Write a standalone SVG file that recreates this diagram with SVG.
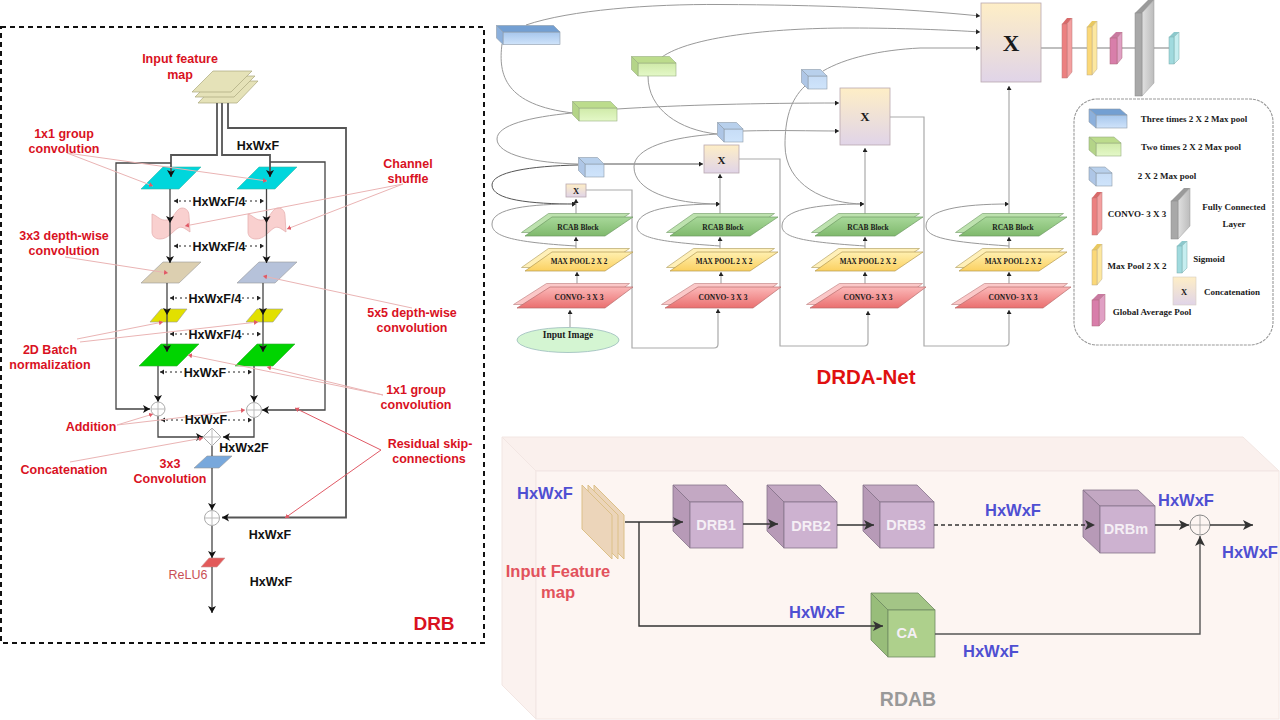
<svg xmlns="http://www.w3.org/2000/svg" xmlns:xlink="http://www.w3.org/1999/xlink" width="1280" height="720" viewBox="0 0 1280 720">
<style>
text{font-family:"Liberation Sans",Arial,sans-serif}
.r{fill:#d9121f;font-weight:700;font-size:12.5px;text-anchor:middle}
.k{fill:#111;font-weight:700;font-size:12.5px;text-anchor:middle}
.b{fill:#4f4fd2;font-weight:700;font-size:16.5px;text-anchor:middle}
.w{fill:#f5eff5;font-weight:700;font-size:14.5px;text-anchor:middle}
.s{font-family:"Liberation Serif","Times New Roman",serif;font-weight:700;fill:#1a1a1a;text-anchor:middle}
.l{font-size:9px}
.ln{fill:none;stroke:#444;stroke-width:1.3}
.ln2{fill:none;stroke:#555;stroke-width:1.8}
.d{fill:none;stroke:#222;stroke-width:1;stroke-dasharray:2 3}
.p{fill:none;stroke:#eab4b4;stroke-width:1}
.p2{fill:none;stroke:#e05a66;stroke-width:1}
.g{fill:none;stroke:#999;stroke-width:1}
.g2{fill:none;stroke:#aaa;stroke-width:1.2}
.g3{fill:none;stroke:#555;stroke-width:1}
.g4{fill:none;stroke:#aaa;stroke-width:1.6}
.o{fill:none;stroke:#333;stroke-width:1.4}
.o2{fill:none;stroke:#555;stroke-width:1.4}
.e{stroke:#8d9aa8;stroke-width:.6}
.c{fill:#fff;stroke:#aaa;stroke-width:1}
.cl{stroke:#bbb;stroke-width:1}
</style>
<defs>
<marker id="a" markerUnits="userSpaceOnUse" markerWidth="9" markerHeight="9" refX="7" refY="4" orient="auto"><path d="M0 0L7 4L0 8L1.8 4Z" fill="#111"/></marker>
<marker id="a2" markerUnits="userSpaceOnUse" markerWidth="6" markerHeight="6" refX="4" refY="2.5" orient="auto"><path d="M0 0L4 2.5L0 5Z" fill="#222"/></marker>
<marker id="a3" markerUnits="userSpaceOnUse" markerWidth="6" markerHeight="6" refX="4" refY="2.5" orient="auto-start-reverse"><path d="M0 0L4 2.5L0 5Z" fill="#222"/></marker>
<marker id="a4" markerUnits="userSpaceOnUse" markerWidth="12" markerHeight="12" refX="10" refY="5" orient="auto"><path d="M0 0L10 5L0 10L2.5 5Z" fill="#333"/></marker>
<marker id="rp" markerUnits="userSpaceOnUse" markerWidth="6" markerHeight="6" refX="4" refY="2.5" orient="auto"><path d="M0 0L4 2.5L0 5Z" fill="#e05a66"/></marker>
<linearGradient id="gBlue" x1="0" y1="0" x2="0" y2="1"><stop offset="0" stop-color="#a6c6ec"/><stop offset="1" stop-color="#cfe3fa"/></linearGradient>
<linearGradient id="gLight" x1="0" y1="0" x2="0" y2="1"><stop offset="0" stop-color="#c6dcf6"/><stop offset="1" stop-color="#cfe4fb"/></linearGradient>
<linearGradient id="gGreen" x1="0" y1="0" x2="0" y2="1"><stop offset="0" stop-color="#cfeaa8"/><stop offset="1" stop-color="#e4f8c8"/></linearGradient>
<linearGradient id="gX" x1="0" y1="0" x2="0" y2="1"><stop offset="0" stop-color="#feeec6"/><stop offset="1" stop-color="#e0d4e8"/></linearGradient>
<linearGradient id="gR" x1="0" y1="0" x2="0" y2="1"><stop offset="0" stop-color="#a8d89a"/><stop offset="1" stop-color="#7fb96c"/></linearGradient>
<linearGradient id="gM" x1="0" y1="0" x2="0" y2="1"><stop offset="0" stop-color="#fff0b0"/><stop offset="1" stop-color="#fbd060"/></linearGradient>
<linearGradient id="gC" x1="0" y1="0" x2="0" y2="1"><stop offset="0" stop-color="#fbb8b8"/><stop offset="1" stop-color="#ea6f6f"/></linearGradient>
<linearGradient id="gGrey" x1="0" y1="0" x2="1" y2="0"><stop offset="0" stop-color="#e0e0e0"/><stop offset="1" stop-color="#bcbcbc"/></linearGradient>
<g id="mp3"><rect width="57" height="12.5" fill="url(#gBlue)" class="e"/><polygon points="0,0 -6.5,-6.5 50.5,-6.5 57,0" fill="#739fd2" class="e"/><polygon points="0,0 -6.5,-6.5 -6.5,6 0,12.5" fill="#8cb0dc" class="e"/></g>
<g id="mp2"><rect width="38" height="13" fill="url(#gGreen)" stroke="#97ad80" stroke-width=".6"/><polygon points="0,0 -6.5,-6.5 31.5,-6.5 38,0" fill="#bcdc8c" stroke="#97ad80" stroke-width=".6"/><polygon points="0,0 -6.5,-6.5 -6.5,6.5 0,13" fill="#b4d488" stroke="#97ad80" stroke-width=".6"/></g>
<g id="mp1"><rect width="19" height="13" fill="url(#gLight)" class="e"/><polygon points="0,0 -6.5,-6.5 12.5,-6.5 19,0" fill="#b8d0ec" class="e"/><polygon points="0,0 -6.5,-6.5 -6.5,6.5 0,13" fill="#aec6e6" class="e"/></g>
<g id="lr"><polygon points="-3.5,-3.5 23.5,-22.5 104.5,-22.5 76.5,-3.5" fill="#bde2ae" stroke="#7ea573" stroke-width=".7"/><polygon points="0,0 27,-19 108,-19 80,0" fill="url(#gR)" stroke="#6d9a62" stroke-width=".7"/></g>
<g id="lm"><polygon points="-3.5,-3.5 23.5,-22.5 104.5,-22.5 76.5,-3.5" fill="#fff0b8" stroke="#b8a66a" stroke-width=".7"/><polygon points="0,0 27,-19 108,-19 80,0" fill="url(#gM)" stroke="#b39a50" stroke-width=".7"/></g>
<g id="lc"><polygon points="-3.5,-3.5 29.5,-24.5 112.5,-24.5 84.5,-3.5" fill="#fbc8c8" stroke="#c48a8a" stroke-width=".7"/><polygon points="0,0 33,-21 116,-21 88,0" fill="url(#gC)" stroke="#b86c6c" stroke-width=".7"/></g>
<path id="wave" d="M0 6C6 8 8 13 15 12C22 11 24 0 30 0C35 0 37 4 37 8L38 24C32 20 30 18 26 20C20 24 16 31 8 31C3 31 0 28 0 24Z" fill="#f9d0cf" stroke="#e6b0b0" stroke-width=".8"/>
<polygon id="cyan" points="0,22 22,0 60,0 38,22" fill="#00d6dc" stroke="#3ba" stroke-width=".6"/>
<polygon id="yel" points="0,13 11,0 37,0 27,13" fill="#e2e000" stroke="#999" stroke-width=".6"/>
<polygon id="grn" points="0,22 22,0 60,0 38,22" fill="#00d400" stroke="#3a3" stroke-width=".6"/>
</defs>
<rect width="1280" height="720" fill="#fff"/>

<g id="drb-panel"><rect x="1" y="27" width="483" height="616" fill="#fff" stroke="#111" stroke-width="2" stroke-dasharray="5 4"/></g>

<g id="rdab-panel">
<polygon points="502,437 1243,437 1279,471 536,471" fill="#faf0ed" stroke="#f2e6e3"/>
<polygon points="502,437 536,471 536,719 502,685" fill="#fbf2ef" stroke="#f2e6e3"/>
<rect x="536" y="471" width="743" height="248" fill="#fdf5f2" stroke="#f2e6e3"/>
</g>

<g id="drb-nodes">
<g id="drb-input"><polygon points="198,103 219,81 258,81 237,103" fill="#e5e2b8" stroke="#aaa77c" stroke-width=".7"/><polygon points="195,97 216,76 255,76 234,97" fill="#e5e2b8" stroke="#aaa77c" stroke-width=".7"/><polygon points="192,92 213,71 252,71 231,92" fill="#e5e2b8" stroke="#aaa77c" stroke-width=".7"/></g>
<use id="cyan-l" xlink:href="#cyan" href="#cyan" x="141" y="167"/>
<use id="cyan-r" xlink:href="#cyan" href="#cyan" x="237" y="167"/>
<use id="wave-l" xlink:href="#wave" href="#wave" x="152" y="208"/>
<use id="wave-r" xlink:href="#wave" href="#wave" x="248" y="208"/>
<polygon id="tan" points="141,283 163,262 201,262 179,283" fill="#dccfb0" stroke="#999" stroke-width=".6"/>
<polygon id="slate" points="237,283 259,262 297,262 275,283" fill="#b6c2da" stroke="#999" stroke-width=".6"/>
<use id="yel-l" xlink:href="#yel" href="#yel" x="150" y="309"/>
<use id="yel-r" xlink:href="#yel" href="#yel" x="246" y="309"/>
<use id="grn-l" xlink:href="#grn" href="#grn" x="139" y="344"/>
<use id="grn-r" xlink:href="#grn" href="#grn" x="235" y="344"/>
<polygon id="conv3" points="194,468 207,456 232,456 219,468" fill="#78a8dc" stroke="#999" stroke-width=".6"/>
<polygon id="relu" points="201,567 209,558 225,558 217,567" fill="#e25a5a" stroke="#c99" stroke-width=".6"/>
</g>

<g id="drb-connectors">
<path class="ln2" d="M217 103V155H171V177" marker-end="url(#a)"/>
<path class="ln2" d="M222 103V155H270V177" marker-end="url(#a)"/>
<path class="ln2" d="M228 103V128H346V517.5H222" marker-end="url(#a)"/>
<path class="ln" d="M171 163H116V409H150" marker-end="url(#a)"/>
<path class="ln" d="M270 162H325V410H262" marker-end="url(#a)"/>
<path class="ln" d="M170 189V223" marker-end="url(#a)"/>
<path class="ln" d="M266.500 189V223" marker-end="url(#a)"/>
<path class="ln" d="M170 223V263" marker-end="url(#a)"/>
<path class="ln" d="M266.500 223V263" marker-end="url(#a)"/>
<path class="ln" d="M167 283V315" marker-end="url(#a)"/>
<path class="ln" d="M263 283V315" marker-end="url(#a)"/>
<path class="ln" d="M167 315V352" marker-end="url(#a)"/>
<path class="ln" d="M263 315V352" marker-end="url(#a)"/>
<path class="ln" d="M158 366V402" marker-end="url(#a)"/>
<path class="ln" d="M254 366V402" marker-end="url(#a)"/>
<path class="ln" d="M158 416V437H203" marker-end="url(#a)"/>
<path class="ln" d="M254 417V437H223" marker-end="url(#a)"/>
<path class="ln" d="M212 446V456"/>
<path class="ln" d="M212 468V510" marker-end="url(#a)"/>
<path class="ln" d="M212 525V558" marker-end="url(#a)"/>
<path class="ln" d="M212 567V613" marker-end="url(#a)"/>
<path class="d" d="M174 201H191M245 201H264" marker-start="url(#a3)" marker-end="url(#a2)"/>
<path class="d" d="M174 246H191M245 246H264" marker-start="url(#a3)" marker-end="url(#a2)"/>
<path class="d" d="M170 298H187M242 298H261" marker-start="url(#a3)" marker-end="url(#a2)"/>
<path class="d" d="M170 334H187M242 334H261" marker-start="url(#a3)" marker-end="url(#a2)"/>
<path class="d" d="M160 372H183M228 372H252" marker-start="url(#a3)" marker-end="url(#a2)"/>
<path class="d" d="M161 420H183M228 420H252" marker-start="url(#a3)" marker-end="url(#a2)"/>
</g>

<g id="drb-ops">
<g id="add-l"><circle class="c" cx="158" cy="409" r="7"/><path class="cl" d="M151 409H165M158 402V416"/></g>
<g id="add-r"><circle class="c" cx="254" cy="410" r="7.500"/><path class="cl" d="M246.500 410H261.500M254 402.500V417.500"/></g>
<g id="concat"><polygon class="c" points="212,428 221,437 212,446 203,437"/><path class="cl" d="M203 437H221M212 428V446"/></g>
<g id="add-out"><circle class="c" cx="212" cy="518" r="7.500"/><path class="cl" d="M204.500 518H219.500M212 510.500V525.500"/></g>
</g>

<g id="drb-annotations">
<path class="p" d="M67 153L153 186" marker-end="url(#rp)"/>
<path class="p" d="M67 153L267 181" marker-end="url(#rp)"/>
<path class="p" d="M403 184L185 226" marker-end="url(#rp)"/>
<path class="p" d="M403 184L287 229" marker-end="url(#rp)"/>
<path class="p" d="M65 257L168 273" marker-end="url(#rp)"/>
<path class="p" d="M412 308L263 276" marker-end="url(#rp)"/>
<path class="p" d="M77 339L163 322" marker-end="url(#rp)"/>
<path class="p" d="M80 342L258 322" marker-end="url(#rp)"/>
<path class="p" d="M383 395L188 355" marker-end="url(#rp)"/>
<path class="p" d="M383 395L267 367" marker-end="url(#rp)"/>
<path class="p" d="M117 425L153 414" marker-end="url(#rp)"/>
<path class="p" d="M117 425L245 410" marker-end="url(#rp)"/>
<path class="p" d="M70 462L203 438" marker-end="url(#rp)"/>
<path class="p2" d="M381 450L295 408" marker-end="url(#rp)"/>
<path class="p2" d="M381 450L285 518" marker-end="url(#rp)"/>
</g>

<g id="drb-labels">
<text class="r" x="180" y="63">Input feature</text><text class="r" x="180" y="79">map</text>
<text class="r" x="64" y="138">1x1 group</text><text class="r" x="64" y="153">convolution</text>
<text class="r" x="408" y="168">Channel</text><text class="r" x="408" y="183">shuffle</text>
<text class="r" x="64" y="240">3x3 depth-wise</text><text class="r" x="64" y="255">convolution</text>
<text class="r" x="412" y="317">5x5 depth-wise</text><text class="r" x="412" y="332">convolution</text>
<text class="r" x="50" y="354">2D Batch</text><text class="r" x="50" y="369">normalization</text>
<text class="r" x="416" y="394">1x1 group</text><text class="r" x="416" y="409">convolution</text>
<text class="r" x="91" y="431">Addition</text>
<text class="r" x="64" y="474">Concatenation</text>
<text class="r" x="430" y="448">Residual skip-</text><text class="r" x="429" y="463">connections</text>
<text class="r" x="170" y="468">3x3</text><text class="r" x="170" y="483">Convolution</text>
<text x="188" y="579" fill="#c94f55" font-size="12.500" text-anchor="middle">ReLU6</text>
<text class="k" x="258" y="150">HxWxF</text>
<text class="k" x="219" y="206">HxWxF/4</text>
<text class="k" x="219" y="251">HxWxF/4</text>
<text class="k" x="215" y="303">HxWxF/4</text>
<text class="k" x="215" y="339">HxWxF/4</text>
<text class="k" x="205" y="377">HxWxF</text>
<text class="k" x="206" y="424">HxWxF</text>
<text class="k" x="244" y="452">HxWx2F</text>
<text class="k" x="270" y="539">HxWxF</text>
<text class="k" x="271" y="586">HxWxF</text>
<text x="434" y="630" fill="#d9121f" font-weight="700" font-size="19" text-anchor="middle">DRB</text>
</g>

<g id="net-connectors">
<path class="g" d="M526 25C570 10 650 4 720 4.500C820 5 900 8 980 16" marker-end="url(#a2)"/>
<path class="g" d="M662 57C690 37 770 28 850 28C900 28 950 30 980 32" marker-end="url(#a2)"/>
<path class="g" d="M823 71C845 58 880 50 920 48L980 48" marker-end="url(#a2)"/>
<path class="g" d="M502 44C498 75 505 105 573 113"/>
<path class="g" d="M648 76C648 110 680 130 717 134"/>
<path class="g" d="M617 109C680 105 760 103 839 103" marker-end="url(#a2)"/>
<path class="g" d="M743 131C780 130 810 131 839 131" marker-end="url(#a2)"/>
<path class="g" d="M572 113C530 117 497 125 497 139C497 155 535 163 578 164"/>
<path class="g3" d="M604 164H703" marker-end="url(#a2)"/>
<path class="g3" d="M578 165C530 166 492 172 492 185C492 200 530 204 576 204" marker-end="url(#a2)"/>
<path class="g" d="M576 246C510 242 492 236 492 224C492 208 530 204 576 204" marker-end="url(#a2)"/>
<path class="g" d="M717 134C670 137 634 148 634 167C634 190 670 204 720 204" marker-end="url(#a2)"/>
<path class="g" d="M720 246C660 242 637 238 637 226C637 210 670 204 720 204" marker-end="url(#a2)"/>
<path class="g" d="M805 86C790 100 785 120 785 145C785 185 825 204 864 204" marker-end="url(#a2)"/>
<path class="g" d="M865 246C805 242 782 238 782 226C782 210 815 204 864 204" marker-end="url(#a2)"/>
<path class="g" d="M1009 246C950 242 926 238 926 226C926 210 960 204 1009 204" marker-end="url(#a2)"/>
<path class="g2" d="M586 190H632V348H714Q718 348 718 344V309" marker-end="url(#a2)"/>
<path class="g2" d="M739 159H780V346H864Q868 346 868 342V311" marker-end="url(#a2)"/>
<path class="g2" d="M890 117H924V346H1005Q1009 346 1009 342V310" marker-end="url(#a2)"/>
<path class="g" d="M570 327V310" marker-end="url(#a2)"/>
<path class="g" d="M577 287V272" marker-end="url(#a2)"/><path class="g" d="M576 252V237" marker-end="url(#a2)"/><path class="g" d="M576 216V199" marker-end="url(#a2)"/>
<path class="g" d="M721 287V272" marker-end="url(#a2)"/><path class="g" d="M720 252V237" marker-end="url(#a2)"/><path class="g2" d="M720 216V174" marker-end="url(#a2)"/>
<path class="g" d="M865 287V272" marker-end="url(#a2)"/><path class="g" d="M865 252V237" marker-end="url(#a2)"/><path class="g2" d="M865 216V148" marker-end="url(#a2)"/>
<path class="g" d="M1009 287V272" marker-end="url(#a2)"/><path class="g" d="M1009 252V237" marker-end="url(#a2)"/><path class="g2" d="M1009 216V86" marker-end="url(#a2)"/>
<path class="g4" d="M1041 48H1169"/>
</g>

<g id="net-nodes">
<use id="pool3" xlink:href="#mp3" href="#mp3" x="503" y="32"/>
<use id="pool2a" xlink:href="#mp2" href="#mp2" x="638" y="63"/>
<use id="pool2b" xlink:href="#mp2" href="#mp2" x="579" y="108"/>
<use id="pool1a" xlink:href="#mp1" href="#mp1" x="585" y="164"/>
<use id="pool1b" xlink:href="#mp1" href="#mp1" x="724" y="129"/>
<use id="pool1c" xlink:href="#mp1" href="#mp1" x="808" y="76"/>
<g id="x1"><rect x="566" y="184" width="20" height="13" fill="url(#gX)" stroke="#b9a8b0" stroke-width=".8"/><text class="s" x="576" y="194" font-size="8.500">X</text></g>
<g id="x2"><rect x="704" y="145" width="35" height="28" fill="url(#gX)" stroke="#b9a8b0" stroke-width=".8"/><text class="s" x="721.500" y="164" font-size="11">X</text></g>
<g id="x3"><rect x="840" y="88" width="50" height="57" fill="url(#gX)" stroke="#b9a8b0" stroke-width=".8"/><text class="s" x="865" y="121" font-size="13">X</text></g>
<g id="x4"><rect x="981" y="3" width="60" height="79" fill="url(#gX)" stroke="#b9a8b0" stroke-width=".8"/><text class="s" x="1011" y="51" font-size="23">X</text></g>

<g id="col1"><use xlink:href="#lr" href="#lr" x="525" y="236"/><text class="s" x="578" y="230" font-size="7.500">RCAB Block</text><use xlink:href="#lm" href="#lm" x="525" y="271"/><text class="s" x="579" y="264" font-size="7.200">MAX POOL 2 X 2</text><use xlink:href="#lc" href="#lc" x="517" y="308"/><text class="s" x="579" y="300" font-size="7.500">CONVO- 3 X 3</text></g>
<g id="col2"><use xlink:href="#lr" href="#lr" x="670" y="236"/><text class="s" x="723" y="230" font-size="7.500">RCAB Block</text><use xlink:href="#lm" href="#lm" x="670" y="271"/><text class="s" x="724" y="264" font-size="7.200">MAX POOL 2 X 2</text><use xlink:href="#lc" href="#lc" x="665" y="308"/><text class="s" x="723" y="300" font-size="7.500">CONVO- 3 X 3</text></g>
<g id="col3"><use xlink:href="#lr" href="#lr" x="815" y="236"/><text class="s" x="868" y="230" font-size="7.500">RCAB Block</text><use xlink:href="#lm" href="#lm" x="815" y="271"/><text class="s" x="868" y="264" font-size="7.200">MAX POOL 2 X 2</text><use xlink:href="#lc" href="#lc" x="810" y="308"/><text class="s" x="868" y="300" font-size="7.500">CONVO- 3 X 3</text></g>
<g id="col4"><use xlink:href="#lr" href="#lr" x="959" y="236"/><text class="s" x="1013" y="230" font-size="7.500">RCAB Block</text><use xlink:href="#lm" href="#lm" x="959" y="271"/><text class="s" x="1013" y="264" font-size="7.200">MAX POOL 2 X 2</text><use xlink:href="#lc" href="#lc" x="955" y="308"/><text class="s" x="1013" y="300" font-size="7.500">CONVO- 3 X 3</text></g>
<g id="input-image"><ellipse cx="568" cy="340" rx="51" ry="12.500" fill="#d4f5d2" stroke="#9bb" stroke-width=".8"/><text class="s" x="568" y="338" font-size="9.500">Input Image</text></g>

<g id="out-conv"><polygon points="1062,24 1067,18 1072,18 1067,24" fill="#d86a6a"/><polygon points="1067,24 1072,18 1072,72 1067,78" fill="#f4a0a0" stroke="#b77" stroke-width=".5"/><rect x="1062" y="24" width="5" height="54" fill="#ec8080" stroke="#b77" stroke-width=".5"/></g>
<g id="out-pool"><polygon points="1087,27 1092,21 1097,21 1092,27" fill="#e8c860"/><polygon points="1092,27 1097,21 1097,69 1092,75" fill="#fde8a0" stroke="#ba8" stroke-width=".5"/><rect x="1087" y="27" width="5" height="48" fill="#fbd878" stroke="#ba8" stroke-width=".5"/></g>
<g id="out-gap"><polygon points="1110,38 1116,32 1122,32 1117,38" fill="#c87aa0"/><polygon points="1117,38 1122,32 1122,58 1117,64" fill="#e0a0c4" stroke="#a67" stroke-width=".5"/><rect x="1110" y="38" width="7" height="26" fill="#d87eaa" stroke="#a67" stroke-width=".5"/></g>
<g id="out-fc"><polygon points="1135,13 1148,0 1154,0 1142,13" fill="#9a9a9a"/><polygon points="1142,13 1154,0 1154,83 1142,96" fill="url(#gGrey)" stroke="#999" stroke-width=".5"/><rect x="1135" y="13" width="7" height="83" fill="#a8a8a8" stroke="#888" stroke-width=".5"/></g>
<g id="out-sig"><polygon points="1169,37 1174,32 1179,32 1174,37" fill="#8cc8cc"/><polygon points="1174,37 1179,32 1179,59 1174,64" fill="#c6eef0" stroke="#7aa" stroke-width=".5"/><rect x="1169" y="37" width="5" height="27" fill="#a0dade" stroke="#7aa" stroke-width=".5"/></g>
</g>

<g id="legend">
<rect x="1074" y="99" width="199" height="246" rx="23" fill="#fff" stroke="#999" stroke-width="1.100" stroke-dasharray="3 1"/>
<g id="leg-3"><rect x="1096" y="115" width="31" height="13" fill="url(#gBlue)" class="e"/><polygon points="1096,115 1089,109 1120,109 1127,115" fill="#739fd2" class="e"/><polygon points="1096,115 1089,109 1089,122 1096,128" fill="#8cb0dc" class="e"/></g>
<g id="leg-2"><rect x="1096" y="143" width="25" height="13" fill="url(#gGreen)" stroke="#97ad80" stroke-width=".6"/><polygon points="1096,143 1089,137 1114,137 1121,143" fill="#bcdc8c" stroke="#97ad80" stroke-width=".6"/><polygon points="1096,143 1089,137 1089,150 1096,156" fill="#b4d488" stroke="#97ad80" stroke-width=".6"/></g>
<g id="leg-1"><rect x="1096" y="173" width="16" height="13" fill="url(#gLight)" class="e"/><polygon points="1096,173 1089,167 1105,167 1112,173" fill="#b8d0ec" class="e"/><polygon points="1096,173 1089,167 1089,180 1096,186" fill="#aec6e6" class="e"/></g>
<text class="s l" x="1194" y="122">Three times 2 X 2 Max pool</text>
<text class="s l" x="1191" y="150">Two times 2 X 2 Max pool</text>
<text class="s l" x="1167" y="179">2 X 2 Max pool</text>
<g id="leg-conv"><polygon points="1092,198 1097,192 1102,192 1097,198" fill="#d86a6a"/><polygon points="1097,198 1102,192 1102,229 1097,235" fill="#f4a0a0" stroke="#b77" stroke-width=".5"/><rect x="1092" y="198" width="5" height="37" fill="#ec8080" stroke="#b77" stroke-width=".5"/></g>
<text class="s l" x="1137" y="217">CONVO- 3 X 3</text>
<g id="leg-pool"><polygon points="1092,250 1097,244 1102,244 1097,250" fill="#e8c860"/><polygon points="1097,250 1102,244 1102,279 1097,285" fill="#fde8a0" stroke="#ba8" stroke-width=".5"/><rect x="1092" y="250" width="5" height="35" fill="#fbd878" stroke="#ba8" stroke-width=".5"/></g>
<text class="s l" x="1137" y="269">Max Pool 2 X 2</text>
<g id="leg-gap"><polygon points="1092,300 1098,294 1105,294 1099,300" fill="#c87aa0"/><polygon points="1099,300 1105,294 1105,320 1099,326" fill="#e0a0c4" stroke="#a67" stroke-width=".5"/><rect x="1092" y="300" width="7" height="26" fill="#d87eaa" stroke="#a67" stroke-width=".5"/></g>
<text class="s l" x="1152" y="315">Global Average Pool</text>
<g id="leg-fc"><polygon points="1171,201 1184,188 1190,188 1178,201" fill="#9a9a9a"/><polygon points="1178,201 1190,188 1190,226 1178,239" fill="url(#gGrey)" stroke="#999" stroke-width=".5"/><rect x="1171" y="201" width="7" height="38" fill="#a8a8a8" stroke="#888" stroke-width=".5"/></g>
<text class="s l" x="1234" y="210">Fully Connected</text>
<text class="s l" x="1234" y="227">Layer</text>
<g id="leg-sig"><polygon points="1177,246 1182,241 1187,241 1182,246" fill="#8cc8cc"/><polygon points="1182,246 1187,241 1187,268 1182,273" fill="#c6eef0" stroke="#7aa" stroke-width=".5"/><rect x="1177" y="246" width="5" height="27" fill="#a0dade" stroke="#7aa" stroke-width=".5"/></g>
<text class="s l" x="1209" y="262">Sigmoid</text>
<g id="leg-x"><rect x="1173" y="277" width="23" height="28" fill="url(#gX)" stroke="#d8ccc0" stroke-width=".6"/><text class="s" x="1184" y="295" font-size="8.500">X</text></g>
<text class="s l" x="1232" y="295">Concatenation</text>
</g>
<text id="drda-title" x="866" y="384" fill="#e01010" font-weight="700" font-size="20.500" text-anchor="middle">DRDA-Net</text>

<g id="rdab-input">
<polygon points="594,485 624,515 624,559 594,529" fill="#ecd5ba" stroke="#dcc088"/>
<polygon points="588,485 618,515 618,559 588,529" fill="#ecd5ba" stroke="#dcc088"/>
<polygon points="582,485 612,515 612,559 582,529" fill="#ecd5ba" stroke="#dcc088"/>
</g>
<g id="drb1"><polygon points="690,502 673,485 726,485 743,502" fill="#c3a8c3" stroke="#85748a" stroke-width=".8"/><polygon points="690,502 673,485 673,531 690,548" fill="#b79ab7" stroke="#85748a" stroke-width=".8"/><rect x="690" y="502" width="53" height="46" fill="#cdb2d0" stroke="#85748a" stroke-width=".8"/><text class="w" x="716" y="530">DRB1</text></g>
<g id="drb2"><polygon points="784,502 767,485 820,485 837,502" fill="#c3a8c3" stroke="#85748a" stroke-width=".8"/><polygon points="784,502 767,485 767,531 784,548" fill="#b79ab7" stroke="#85748a" stroke-width=".8"/><rect x="784" y="502" width="53" height="46" fill="#cdb2d0" stroke="#85748a" stroke-width=".8"/><text class="w" x="811" y="531">DRB2</text></g>
<g id="drb3"><polygon points="880,502 863,485 917,485 934,502" fill="#c3a8c3" stroke="#85748a" stroke-width=".8"/><polygon points="880,502 863,485 863,531 880,548" fill="#b79ab7" stroke="#85748a" stroke-width=".8"/><rect x="880" y="502" width="54" height="46" fill="#cdb2d0" stroke="#85748a" stroke-width=".8"/><text class="w" x="906" y="530">DRB3</text></g>
<g id="drbm"><polygon points="1100,506 1083,490 1138,490 1155,506" fill="#c3a8c3" stroke="#85748a" stroke-width=".8"/><polygon points="1100,506 1083,490 1083,537 1100,553" fill="#b79ab7" stroke="#85748a" stroke-width=".8"/><rect x="1100" y="506" width="55" height="47" fill="#cdb2d0" stroke="#85748a" stroke-width=".8"/><text class="w" x="1126" y="534">DRBm</text></g>
<g id="ca"><polygon points="888,610 871,593 918,593 935,610" fill="#a3c586" stroke="#6f8a62" stroke-width=".8"/><polygon points="888,610 871,593 871,640 888,657" fill="#98bd7a" stroke="#6f8a62" stroke-width=".8"/><rect x="888" y="610" width="47" height="47" fill="#aed08c" stroke="#6f8a62" stroke-width=".8"/><text class="w" x="907" y="638">CA</text></g>
<g id="rdab-add"><circle cx="1200" cy="525" r="10" fill="none" stroke="#888"/><path d="M1190 525H1210M1200 515V535" stroke="#999" stroke-width=".8"/></g>
<g id="rdab-connectors">
<path class="o" d="M625 522H683" marker-end="url(#a4)"/>
<path class="o" d="M639 522V626H883" marker-end="url(#a4)"/>
<path class="o" d="M743 524H778" marker-end="url(#a4)"/>
<path class="o" d="M837 525H874" marker-end="url(#a4)"/>
<path class="o" d="M934 525H1095" stroke-dasharray="4 3" marker-end="url(#a4)"/>
<path class="o" d="M1155 525H1189" marker-end="url(#a4)"/>
<path class="o" d="M1210 525H1253" marker-end="url(#a4)"/>
<path class="o2" d="M935 634H1200V536" marker-end="url(#a4)"/>
</g>
<g id="rdab-labels">
<text class="b" x="545" y="499">HxWxF</text>
<text x="558" y="577" fill="#e2525c" font-weight="700" font-size="16.500" text-anchor="middle">Input Feature</text>
<text x="558" y="598" fill="#e2525c" font-weight="700" font-size="16.500" text-anchor="middle">map</text>
<text class="b" x="817" y="618">HxWxF</text>
<text class="b" x="1013" y="516">HxWxF</text>
<text class="b" x="1186" y="506">HxWxF</text>
<text class="b" x="1250" y="558">HxWxF</text>
<text class="b" x="991" y="657">HxWxF</text>
<text x="908" y="706" fill="#999" font-weight="700" font-size="19.500" text-anchor="middle">RDAB</text>
</g>
</svg>
